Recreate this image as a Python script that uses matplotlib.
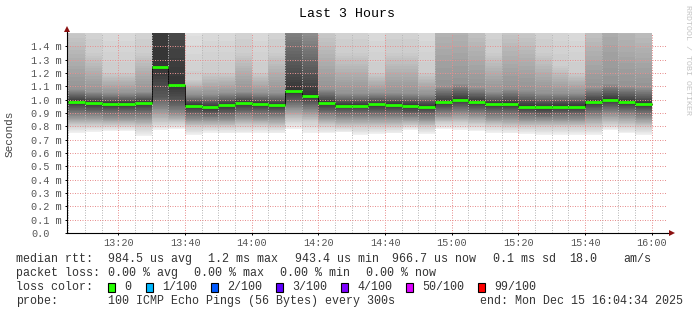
import datetime as dt
import numpy as np
import matplotlib
matplotlib.use('Agg')
import matplotlib.pyplot as plt
import matplotlib.dates as mdates
from matplotlib.patches import Rectangle

med = [0.985, 0.975, 0.967, 0.967, 0.975, 1.243, 1.108, 0.955, 0.943, 0.957,
       0.975, 0.967, 0.957, 1.065, 1.025, 0.975, 0.955, 0.955, 0.965, 0.962,
       0.953, 0.948, 0.982, 1.000, 0.985, 0.967, 0.967, 0.948, 0.943, 0.948,
       0.948, 0.982, 1.000, 0.985, 0.967]
p0 = [0.752, 0.760, 0.765, 0.765, 0.730, 0.773, 0.780, 0.735, 0.752, 0.748,
      0.748, 0.752, 0.748, 0.780, 0.752, 0.748, 0.755, 0.735, 0.743, 0.748,
      0.773, 0.743, 0.780, 0.773, 0.765, 0.752, 0.748, 0.743, 0.735, 0.735,
      0.735, 0.735, 0.773, 0.748, 0.735]
p10 = [0.81, 0.81, 0.81, 0.81, 0.80, 0.83, 0.83, 0.80, 0.80, 0.80,
       0.81, 0.81, 0.80, 0.85, 0.84, 0.81, 0.80, 0.80, 0.80, 0.80,
       0.81, 0.80, 0.83, 0.83, 0.82, 0.81, 0.80, 0.80, 0.80, 0.80,
       0.80, 0.80, 0.82, 0.81, 0.80]
p25 = [0.87, 0.87, 0.86, 0.86, 0.86, 0.92, 0.89, 0.85, 0.85, 0.85,
       0.87, 0.86, 0.86, 0.93, 0.91, 0.87, 0.86, 0.86, 0.86, 0.86,
       0.86, 0.85, 0.88, 0.89, 0.88, 0.86, 0.86, 0.85, 0.85, 0.85,
       0.85, 0.87, 0.89, 0.88, 0.86]
p40 = [0.94, 0.93, 0.93, 0.93, 0.93, 1.02, 0.98, 0.91, 0.90, 0.91,
       0.93, 0.93, 0.92, 1.00, 0.98, 0.93, 0.92, 0.92, 0.92, 0.92,
       0.91, 0.91, 0.94, 0.96, 0.94, 0.93, 0.93, 0.91, 0.90, 0.91,
       0.91, 0.94, 0.96, 0.94, 0.93]
p75 = [1.08, 1.06, 1.05, 1.05, 1.06, 5.0, 2.8, 1.04, 1.04, 1.05,
       1.06, 1.05, 1.05, 1.6, 1.52, 1.08, 1.05, 1.05, 1.05, 1.05,
       1.05, 1.04, 1.10, 1.12, 1.09, 1.06, 1.08, 1.07, 1.05, 1.05,
       1.05, 1.09, 1.12, 1.10, 1.09]
p90 = [1.52, 1.35, 1.20, 1.20, 1.35, 8.0, 5.0, 1.15, 1.20, 1.20,
       1.35, 1.20, 1.35, 3.0, 2.5, 1.52, 1.35, 1.35, 1.20, 1.35,
       1.35, 1.20, 1.80, 1.80, 1.60, 1.35, 1.55, 1.52, 1.35, 1.25,
       1.20, 1.60, 2.00, 1.75, 1.65]
p100 = [2.6, 2.4, 2.0, 2.0, 2.4, 12.0, 8.0, 1.8, 2.0, 2.0,
        2.4, 2.0, 2.4, 5.0, 4.0, 2.6, 2.4, 2.4, 2.0, 2.4,
        2.4, 2.0, 3.0, 3.0, 3.0, 2.4, 3.0, 2.6, 2.4, 2.2,
        2.0, 3.0, 3.0, 3.0, 3.0]

yticks = [0.0, 0.1, 0.2, 0.3, 0.4, 0.5, 0.6, 0.7, 0.8, 0.9, 1.0, 1.1, 1.2, 1.3, 1.4]
ylabels = ['0.0'] + ['%.1f m' % v for v in yticks[1:]]

loss_labels = ['0', '1/100', '2/100', '3/100', '4/100', '50/100', '99/100']
loss_colors = ['#26ff00', '#00b8ff', '#0059ff', '#5e00ff', '#7e00ff', '#dd00ff', '#ff0000']

plt.rcParams['font.family'] = ['Liberation Mono', 'DejaVu Sans Mono']

W, H = 697, 315
fig = plt.figure(figsize=(W / 100, H / 100), dpi=100)
ax = fig.add_axes([67 / W, (H - 233) / H, 600 / W, 200 / H])

end = dt.datetime(2025, 12, 15, 16, 4, 34)
start = end - dt.timedelta(hours=3)
t0 = dt.datetime(2025, 12, 15, 13, 5)
xs = mdates.date2num([t0 + dt.timedelta(minutes=5 * i) for i in range(len(med))])
wd = 5 / 1440.0

# smoke: outer pings light, inner ones darker (smokeping style)
fq = [0, 0.1, 0.25, 0.4, 0.5, 0.75, 0.9, 1.0]
Q = np.array([p0, p10, p25, p40, med, p75, p90, p100]).T
for i in range(50):
    lo = np.array([np.interp(i / 100, fq, q) for q in Q])
    hi = np.array([np.interp(1 - i / 100, fq, q) for q in Q])
    g = (50 + 190 * (50 - i) / 50) / 255
    ax.bar(xs, hi - lo, bottom=lo, width=wd, align='edge', color=(g, g, g),
           linewidth=0, zorder=1)

# median
edges = np.append(xs, xs[-1] + wd)
ax.step(edges, med + [med[-1]], where='post', color='black', lw=0.6, zorder=4)
ax.hlines(med, xs, xs + wd, color='#26ff00', lw=2.0, zorder=5)

ax.set_xlim(start, end)
ax.set_ylim(0, 1.5)
ax.xaxis.set_major_locator(mdates.MinuteLocator(byminute=[0, 20, 40]))
ax.xaxis.set_minor_locator(mdates.MinuteLocator(byminute=range(0, 60, 5)))
ax.xaxis.set_major_formatter(mdates.DateFormatter('%H:%M'))
ax.set_yticks(yticks)
ax.set_yticklabels(ylabels, ha='left')

ax.grid(which='minor', axis='x', color='#b8b8b8', lw=0.72, ls=(0, (1, 1.5)), zorder=3)
ax.grid(which='major', axis='x', color='#e89090', lw=0.72, ls=(0, (1, 1.5)), zorder=3)
ax.grid(which='major', axis='y', color='#e89090', lw=0.72, ls=(0, (1, 1.5)), zorder=3)
ax.set_axisbelow(False)

ax.tick_params(axis='both', which='major', length=1.5, width=0.7, color='black',
               labelsize=7.3, labelcolor='#555555')
ax.tick_params(axis='x', which='minor', length=0)
ax.tick_params(axis='y', pad=24.4)
ax.tick_params(axis='x', pad=2)

for s in ['top', 'right']:
    ax.spines[s].set_visible(False)
for s in ['left', 'bottom']:
    ax.spines[s].set_color('black')
    ax.spines[s].set_linewidth(0.8)
    ax.spines[s].set_zorder(6)

# axis arrows
ax.plot([1.0, 1.006], [0, 0], color='black', lw=0.8, transform=ax.transAxes, clip_on=False)
ax.plot([0, 0], [1.0, 1.01], color='black', lw=0.8, transform=ax.transAxes, clip_on=False)
ax.plot(1.009, 0, marker='>', ms=4.5, color='#8b1010', mew=0, transform=ax.transAxes, clip_on=False)
ax.plot(0, 1.02, marker='^', ms=4.5, color='#8b1010', mew=0, transform=ax.transAxes, clip_on=False)

fig.text(347 / W, 1 - 14 / H, 'Last 3 Hours', ha='center', va='center', fontsize=9.5, color='black')
fig.text(10 / W, 1 - 134 / H, 'Seconds', rotation=90, ha='center', va='center', fontsize=8, color='#444444')
fig.text(687 / W, 1 - 60 / H, 'RRDTOOL / TOBI OETIKER', rotation=-90, ha='center', va='center',
         fontsize=6, color='#c4c4c4')

def put(x, y, s):
    fig.text(x / W, 1 - y / H, s, ha='left', va='center', fontsize=8.4, color='#333333')

for x, s in [(16, 'median rtt:'), (108, '984.5 us avg'), (208, '1.2 ms max'), (295, '943.4 us min'),
             (392, '966.7 us now'), (493, '0.1 ms sd'), (569, '18.0'), (623, 'am/s')]:
    put(x, 259, s)
for x, s in [(16, 'packet loss:'), (108, '0.00 % avg'), (194, '0.00 % max'),
             (280, '0.00 % min'), (366, '0.00 % now')]:
    put(x, 273, s)
put(16, 287, 'loss color:')
box_x = [108, 146, 211, 276, 341, 406, 478]
for bx, lab, col in zip(box_x, loss_labels, loss_colors):
    fig.patches.append(Rectangle((bx / W, 1 - 291.5 / H), 7 / W, 9 / H, transform=fig.transFigure,
                                 facecolor=col, edgecolor='black', lw=0.8))
    put(bx + 16, 287, lab)
put(16, 301, 'probe:')
put(108, 301, '100 ICMP Echo Pings (56 Bytes) every 300s')
put(480, 301, 'end: Mon Dec 15 16:04:34 2025')

fig.savefig('out.png', dpi=100, facecolor='white')
